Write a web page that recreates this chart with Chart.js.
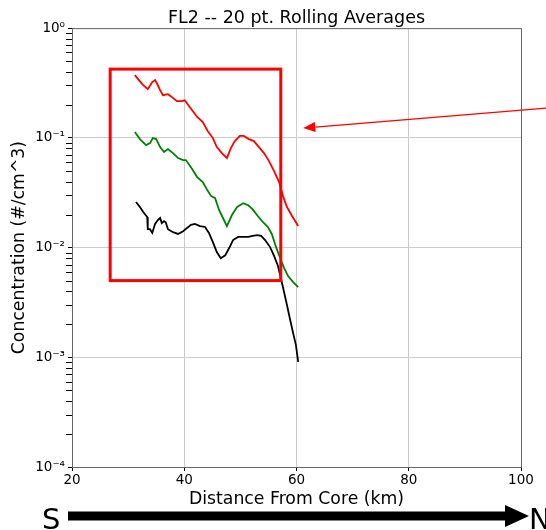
<!DOCTYPE html>
<html>
<head>
<meta charset="utf-8">
<title>FL2 -- 20 pt. Rolling Averages</title>
<script src="https://cdn.jsdelivr.net/npm/chart.js@4.4.1/dist/chart.umd.min.js"></script>
<style>
    html, body { margin: 0; padding: 0; background: #fff; }
</style>
</head>
<body>
<canvas id="fl2Chart" width="546" height="530"></canvas>
<script>
    // Data (distance in km, concentration in #/cm^3)
    const redX = [31.2, 32.5, 33.5, 34.3, 34.8, 35.1, 35.7, 36.2, 37.1, 37.8, 38.7, 39.6, 40.1, 41.0, 42.3, 43.3, 44.2, 45.1, 45.8, 46.7, 47.6, 48.3, 49.0, 49.9, 50.6, 51.5, 52.4, 53.3, 54.2, 55.1, 56.0, 56.9, 57.6, 58.3, 59.2, 60.3];
    const redY = [0.373, 0.309, 0.278, 0.322, 0.336, 0.316, 0.272, 0.245, 0.25, 0.235, 0.216, 0.216, 0.22, 0.19, 0.155, 0.139, 0.115, 0.0995, 0.0824, 0.0726, 0.0654, 0.0807, 0.0934, 0.104, 0.104, 0.0974, 0.0934, 0.0824, 0.0726, 0.0614, 0.0498, 0.0395, 0.0294, 0.0234, 0.0194, 0.0157];

    const greenX = [31.2, 32.1, 33.2, 33.9, 34.4, 35.0, 35.7, 36.4, 37.1, 38.0, 38.9, 39.8, 40.3, 41.4, 42.3, 43.3, 44.1, 44.8, 45.5, 46.2, 46.9, 47.6, 48.5, 49.4, 50.5, 51.4, 52.2, 53.1, 54.0, 54.9, 55.6, 56.3, 57.1, 57.8, 58.5, 59.4, 60.3];
    const greenY = [0.113, 0.0974, 0.0859, 0.0894, 0.0995, 0.0974, 0.0824, 0.0742, 0.079, 0.0726, 0.0654, 0.0627, 0.0627, 0.0519, 0.0439, 0.0395, 0.0334, 0.0294, 0.0282, 0.022, 0.0186, 0.0157, 0.0198, 0.0234, 0.0254, 0.0243, 0.0223, 0.0194, 0.0171, 0.0154, 0.0133, 0.0103, 0.008, 0.0065, 0.0055, 0.00485, 0.00436];

    const blackX = [31.4, 32.1, 32.7, 33.4, 33.5, 33.9, 34.3, 34.8, 35.3, 35.7, 36.0, 36.4, 36.7, 37.1, 38.0, 38.9, 39.8, 40.5, 41.2, 41.9, 42.8, 43.7, 44.4, 45.1, 45.8, 46.5, 47.3, 48.0, 48.7, 49.6, 50.5, 51.4, 52.2, 53.0, 53.7, 54.4, 55.3, 56.0, 56.7, 57.2, 57.8, 58.3, 58.8, 59.4, 59.9, 60.3];
    const blackY = [0.026, 0.0234, 0.0211, 0.019, 0.0147, 0.0147, 0.0136, 0.0164, 0.0178, 0.0186, 0.0167, 0.0174, 0.017, 0.0147, 0.0138, 0.0133, 0.0141, 0.0151, 0.0161, 0.0164, 0.0157, 0.0154, 0.0136, 0.0112, 0.0091, 0.008, 0.0085, 0.0099, 0.0117, 0.0125, 0.0125, 0.0125, 0.0128, 0.013, 0.0128, 0.0117, 0.0101, 0.0084, 0.0068, 0.0053, 0.0039, 0.003, 0.00228, 0.00166, 0.00129, 0.00091];

    // Tick labels
    const xTicks = [20, 40, 60, 80, 100];
    const yTickValues = [1e-4, 1e-3, 1e-2, 1e-1, 1];
    const yTickLabels = ['10\u207B\u2074', '10\u207B\u00B3', '10\u207B\u00B2', '10\u207B\u00B9', '10\u2070'];

    // Annotation (data units): highlighted box and pointer arrow
    const boxX = [26.8, 57.2];
    const boxY = [0.005, 0.423];
    const pointerFrom = [104.5, 0.187];
    const pointerTo = [61.2, 0.1227];

    const toPoints = (xs, ys) => xs.map((v, i) => ({ x: v, y: ys[i] }));
    const isMajor = v => yTickValues.some(m => Math.abs(Math.log10(v) - Math.log10(m)) < 1e-6);

    Chart.defaults.font.family = "'DejaVu Sans', sans-serif";
    Chart.defaults.color = '#000';

    // extras: minor ticks, frame, red box, red arrow, S -> N arrow
    const overlay = {
        id: 'overlay',
        afterDatasetsDraw(chart) {
            const { ctx, chartArea: a, scales: { x, y } } = chart;
            ctx.save();

            // top / right spines
            ctx.strokeStyle = '#666';
            ctx.lineWidth = 1;
            ctx.beginPath();
            ctx.moveTo(a.left, a.top + 0.5);
            ctx.lineTo(a.right + 0.5, a.top + 0.5);
            ctx.lineTo(a.right + 0.5, a.bottom);
            ctx.stroke();

            // minor ticks on the log axis
            ctx.strokeStyle = '#000';
            y.ticks.forEach(t => {
                if (isMajor(t.value)) return;
                const py = Math.round(y.getPixelForValue(t.value)) + 0.5;
                ctx.beginPath();
                ctx.moveTo(a.left - 6, py);
                ctx.lineTo(a.left, py);
                ctx.stroke();
            });

            // red box
            ctx.strokeStyle = '#ff0000';
            ctx.lineWidth = 3;
            const bx1 = x.getPixelForValue(boxX[0]), bx2 = x.getPixelForValue(boxX[1]);
            const by1 = y.getPixelForValue(boxY[1]), by2 = y.getPixelForValue(boxY[0]);
            ctx.strokeRect(bx1, by1, bx2 - bx1, by2 - by1);

            // red pointer arrow
            const fx = x.getPixelForValue(pointerFrom[0]), fy = y.getPixelForValue(pointerFrom[1]);
            const tx = x.getPixelForValue(pointerTo[0]), ty = y.getPixelForValue(pointerTo[1]);
            const ang = Math.atan2(ty - fy, tx - fx);
            const headLen = 12, headHalf = 5;
            const hx = tx - headLen * Math.cos(ang), hy = ty - headLen * Math.sin(ang);
            ctx.lineWidth = 1.3;
            ctx.beginPath();
            ctx.moveTo(fx, fy);
            ctx.lineTo(hx, hy);
            ctx.stroke();
            ctx.fillStyle = '#ff0000';
            ctx.beginPath();
            ctx.moveTo(tx, ty);
            ctx.lineTo(hx + headHalf * Math.sin(ang), hy - headHalf * Math.cos(ang));
            ctx.lineTo(hx - headHalf * Math.sin(ang), hy + headHalf * Math.cos(ang));
            ctx.closePath();
            ctx.fill();

            // S -> N direction arrow under the axis
            ctx.fillStyle = '#000';
            ctx.fillRect(68, 511.5, 438, 9);
            ctx.beginPath();
            ctx.moveTo(505, 505);
            ctx.lineTo(529, 516);
            ctx.lineTo(505, 527);
            ctx.closePath();
            ctx.fill();
            ctx.font = "29px 'DejaVu Sans', sans-serif";
            ctx.textBaseline = 'alphabetic';
            ctx.textAlign = 'left';
            ctx.fillText('S', 42, 529);
            ctx.fillText('N', 529, 529);

            ctx.restore();
        }
    };

    const ctx = document.getElementById('fl2Chart').getContext('2d');

    const chart = new Chart(ctx, {
        type: 'line',
        data: {
            datasets: [
                { data: toPoints(redX, redY), borderColor: '#ff0000' },
                { data: toPoints(greenX, greenY), borderColor: '#008000' },
                { data: toPoints(blackX, blackY), borderColor: '#000000' }
            ]
        },
        options: {
            responsive: false,
            animation: false,
            layout: { padding: { top: 0, right: 25, bottom: 0, left: 0 } },
            elements: {
                line: { borderWidth: 1.8, tension: 0, fill: false },
                point: { radius: 0 }
            },
            plugins: {
                legend: { display: false },
                tooltip: { enabled: false },
                title: {
                    display: true,
                    fullSize: false,
                    text: 'FL2 -- 20 pt. Rolling Averages',
                    font: { size: 17.5, weight: 'normal', lineHeight: 1.15 },
                    color: '#000',
                    padding: { top: 8, bottom: 0 }
                }
            },
            scales: {
                x: {
                    type: 'linear',
                    min: 20,
                    max: 100,
                    afterBuildTicks: s => { s.ticks = xTicks.map(v => ({ value: v })); },
                    afterFit: s => { s.height = 63; },
                    ticks: { font: { size: 13.5 }, padding: 1, maxRotation: 0 },
                    grid: { color: '#cccccc', tickColor: '#000', tickLength: 4 },
                    border: { color: '#666', width: 1 },
                    title: {
                        display: true,
                        text: 'Distance From Core (km)',
                        font: { size: 17.3, lineHeight: 1.2 },
                        padding: { top: 0, bottom: 20.5 }
                    }
                },
                y: {
                    type: 'logarithmic',
                    min: 1e-4,
                    max: 1,
                    afterBuildTicks: s => {
                        const t = [];
                        for (let e = -4; e < 0; e++) {
                            for (let m = 1; m <= 9; m++) t.push({ value: m * Math.pow(10, e) });
                        }
                        t.push({ value: 1 });
                        s.ticks = t;
                    },
                    afterFit: s => { s.width = 72; },
                    ticks: {
                        autoSkip: false,
                        font: { size: 13.5 },
                        padding: 3,
                        callback: v => {
                            const i = yTickValues.findIndex(m => Math.abs(Math.log10(v) - Math.log10(m)) < 1e-6);
                            return i >= 0 ? yTickLabels[i] : '';
                        }
                    },
                    grid: {
                        color: c => (c.tick && isMajor(c.tick.value)) ? '#cccccc' : 'rgba(0,0,0,0)',
                        tickColor: c => (c.tick && isMajor(c.tick.value)) ? '#000' : 'rgba(0,0,0,0)',
                        tickLength: 4
                    },
                    border: { color: '#666', width: 1 },
                    title: {
                        display: true,
                        text: 'Concentration (#/cm^3)',
                        font: { size: 17.3, lineHeight: 1.2 },
                        padding: { top: 9.6, bottom: 0 }
                    }
                }
            }
        },
        plugins: [overlay]
    });
</script>
</body>
</html>
